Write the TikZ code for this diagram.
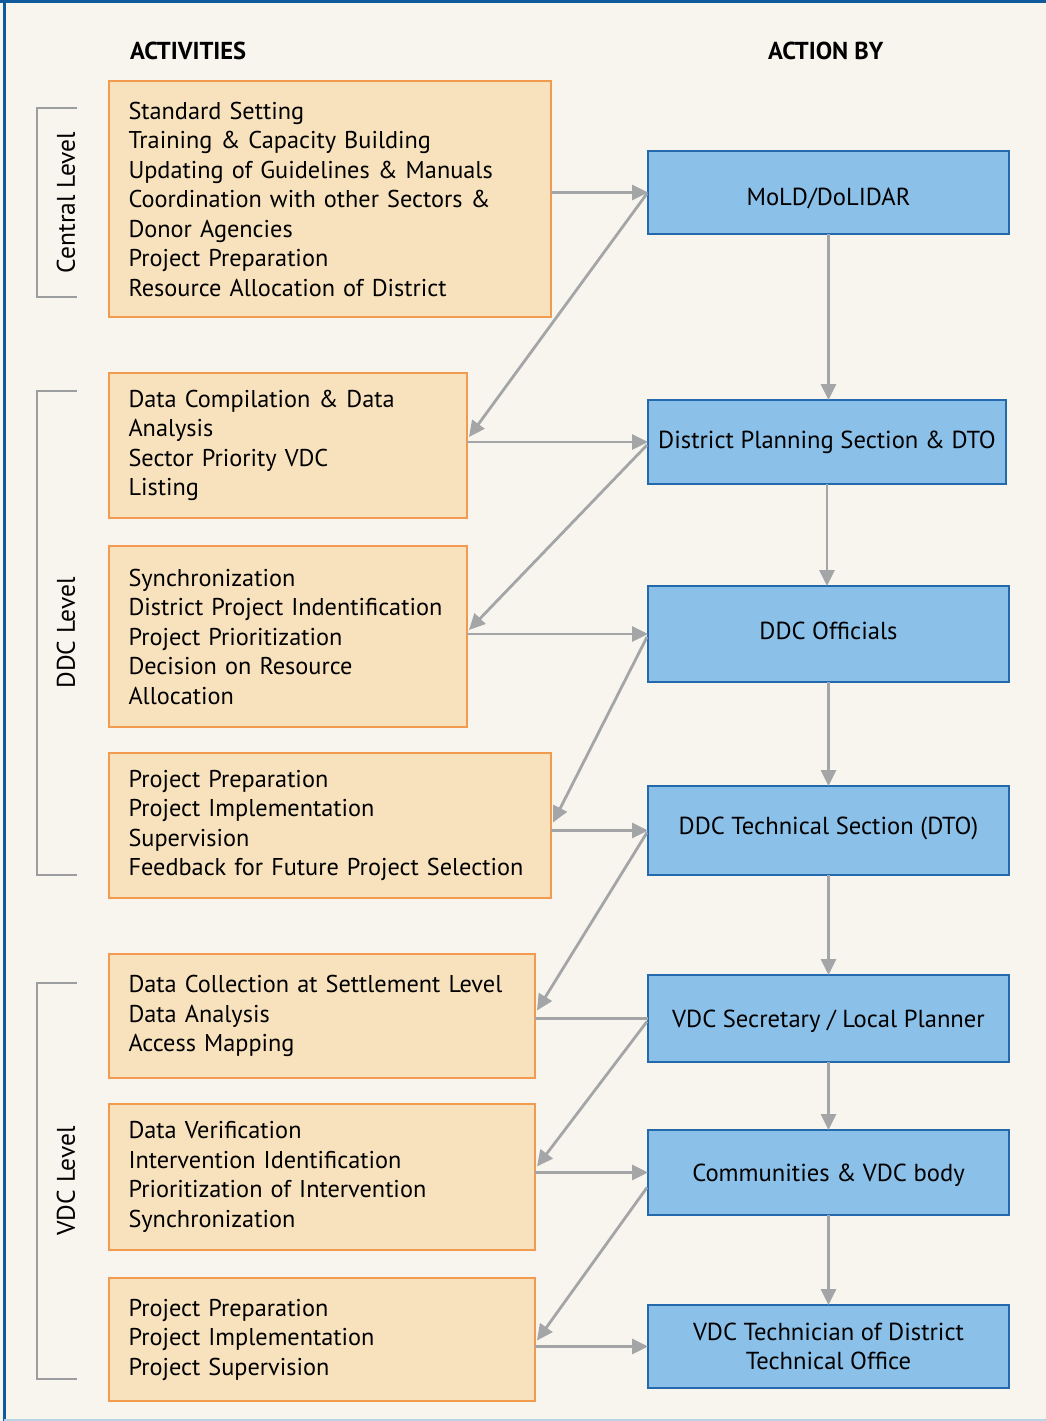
\documentclass[tikz,border=0pt]{standalone}
\usepackage{fontspec}
\setmainfont{PT Sans}
\usetikzlibrary{arrows.meta,calc}
\definecolor{bgcol}{HTML}{F8F5EE}
\definecolor{orfill}{HTML}{F7E2BD}
\definecolor{ordraw}{HTML}{F29A4E}
\definecolor{blfill}{HTML}{8BC0E9}
\definecolor{bldraw}{HTML}{2468AE}
\definecolor{arcol}{HTML}{A3A5A7}
\definecolor{framecol}{HTML}{0F5A9A}
\definecolor{bottomcol}{HTML}{BCD3E3}
\newcommand{\shiftedtext}[2]{\raisebox{#1}[\height][\depth]{#2}}
\tikzset{
  actbox/.style={draw=ordraw, fill=orfill, line width=2.5pt, rectangle, outer sep=0pt,
    inner xsep=19.5pt, inner ysep=0pt, align=left,
    font=\fontsize{24.3}{29.5}\selectfont},
  bybox/.style={draw=bldraw, fill=blfill, line width=1.5pt, rectangle, outer sep=0pt,
    inner sep=0pt, align=center, font=\fontsize{24.6}{29.5}\selectfont},
  arr/.style={draw=arcol, line width=2.8pt, -{Triangle[length=16pt,width=15pt]}},
  plainline/.style={draw=arcol, line width=2.8pt},
  brk/.style={draw=arcol!95!black, line width=2.5pt},
  lvl/.style={rotate=90, font=\fontsize{25.5}{28}\selectfont},
  hdr/.style={inner sep=0pt, font=\bfseries\fontsize{24.5}{28}\selectfont}
}
\begin{document}
\begin{tikzpicture}[x=1pt,y=-1pt]
\useasboundingbox (0,0) rectangle (1046,1421);
\fill[bgcol] (0,0) rectangle (1046,1421);
\draw[framecol, line width=3pt] (0,1.5) -- (1046,1.5);
\draw[framecol, line width=3pt] (4,0) -- (4,1421);
\draw[bottomcol, line width=2pt] (4,1419.5) -- (1046,1419.5);

% headers
\node[hdr, anchor=west] (hact) at (130,51) {ACTIVITIES};
\node[hdr, anchor=west] (hby) at (768,51) {ACTION BY};

% activity boxes
\node[actbox, minimum width=442pt, minimum height=236pt, text width=403pt] (B1) at (330,199)
 {Standard Setting\\Training \& Capacity Building\\Updating of Guidelines \& Manuals\\Coordination with other Sectors \&\\Donor Agencies\\Project Preparation\\Resource Allocation of District};
\node[actbox, minimum width=358pt, minimum height=145pt, text width=319pt] (B2) at (288,445.5)
 {Data Compilation \& Data\\Analysis\\Sector Priority VDC\\Listing};
\node[actbox, minimum width=358pt, minimum height=181pt, text width=319pt] (B3) at (288,636.5)
 {Synchronization\\District Project Indentification\\Project Prioritization\\Decision on Resource\\Allocation};
\node[actbox, minimum width=442pt, minimum height=145pt, text width=403pt] (B4) at (330,825.5)
 {Project Preparation\\Project Implementation\\Supervision\\Feedback for Future Project Selection};
\node[actbox, minimum width=426pt, minimum height=124pt, text width=387pt] (B5) at (322,1016)
 {Data Collection at Settlement Level\\Data Analysis\\Access Mapping};
\node[actbox, minimum width=426pt, minimum height=146pt, text width=387pt] (B6) at (322,1177)
 {Data Verification\\Intervention Identification\\Prioritization of Intervention\\Synchronization};
\node[actbox, minimum width=426pt, minimum height=123pt, text width=387pt] (B7) at (322,1339.5)
 {Project Preparation\\Project Implementation\\Project Supervision};

% action-by boxes
\node[bybox, minimum width=361pt, minimum height=83pt] (R1) at (828.5,192.5) {\shiftedtext{-6pt}{MoLD/DoLIDAR}};
\node[bybox, minimum width=358pt, minimum height=84pt] (R2) at (827,442) {District Planning Section \& DTO};
\node[bybox, minimum width=361pt, minimum height=96pt] (R3) at (828.5,634) {\shiftedtext{3pt}{DDC Officials}};
\node[bybox, minimum width=361pt, minimum height=89pt] (R4) at (828.5,830.5) {\shiftedtext{2pt}{DDC Technical Section (DTO)}};
\node[bybox, minimum width=361pt, minimum height=87pt] (R5) at (828.5,1018.5) {\shiftedtext{-3pt}{VDC Secretary / Local Planner}};
\node[bybox, minimum width=361pt, minimum height=85pt] (R6) at (828.5,1172.5) {\shiftedtext{-3pt}{Communities \& VDC body}};
\node[bybox, minimum width=361pt, minimum height=83pt] (R7) at (828.5,1346.5) {VDC Technician of District\\Technical Office};

% vertical arrows
\foreach \a/\b in {R1/R2,R2/R3,R3/R4,R4/R5,R5/R6,R6/R7}
  \draw[arr] (\a.south) -- (\a.south |- \b.north);

% horizontal connectors
\draw[arr] (B1.east |- R1.west) -- (R1.west);
\draw[arr] (B2.east |- R2.west) -- (R2.west);
\draw[arr] (B3.east |- R3.west) -- (R3.west);
\draw[arr] (B4.east |- R4.west) -- (R4.west);
\draw[plainline] (B5.east |- R5.west) -- (R5.west);
\draw[arr] (B6.east |- R6.west) -- (R6.west);
\draw[arr] (B7.east |- R7.west) -- (R7.west);

% diagonal connectors
\draw[arr] ($(R1.west)+(-1,1)$) -- ($(B2.east |- R2.west)+(2,-5)$);
\draw[arr] ($(R2.west)+(-1,3)$) -- ($(B3.east |- R3.west)+(2,-4)$);
\draw[arr] ($(R3.west)+(-1,3)$) -- ($(B4.east |- R4.west)+(2,-8)$);
\draw[arr] ($(R4.west)+(-1,2)$) -- ($(B5.east |- R5.west)+(2,-8)$);
\draw[arr] ($(R5.west)+(-1,3)$) -- ($(B6.east |- R6.west)+(2,-6)$);
\draw[arr] ($(R6.west)+(-1,15)$) -- ($(B7.east |- R7.west)+(2,-6)$);

% level brackets
\draw[brk] (77,108) -- (37,108) -- (37,297) -- (77,297);
\draw[brk] (77,391) -- (37,391) -- (37,875) -- (77,875);
\draw[brk] (77,983) -- (37,983) -- (37,1379) -- (77,1379);
\node[lvl] (L1) at (66,202.5) {Central Level};
\node[lvl] (L2) at (66,633) {DDC Level};
\node[lvl] (L3) at (66,1181) {VDC Level};
\end{tikzpicture}
\end{document}
